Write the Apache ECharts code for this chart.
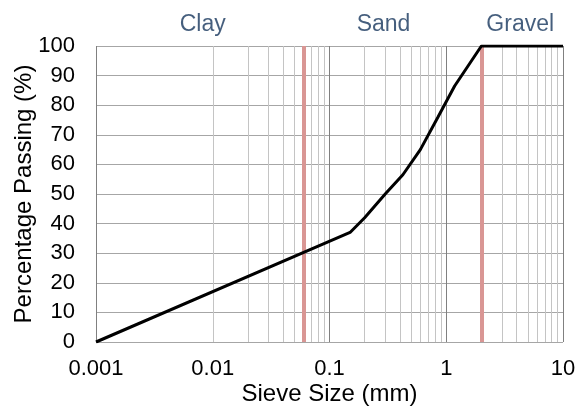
<!DOCTYPE html>
<html>
<head>
<meta charset="utf-8">
<title>Sieve Analysis</title>
<script src="https://cdn.jsdelivr.net/npm/echarts@6/dist/echarts.min.js"></script>
<style>
  html, body { margin: 0; padding: 0; background: #fff; }
  #main { width: 578px; height: 407px; }
</style>
</head>
<body>
<div id="main"></div>
<script type="text/javascript">
    // grading curve (sieve size mm, % passing)
    var sieveSize = [0.001, 0.15, 0.2, 0.3, 0.425, 0.6, 0.85, 1.18, 2, 10];
    var passing   = [0,     37,   42,  50,  56.5,  65,  76,   86.5, 100, 100];

    // soil class boundaries (mm)
    var boundaries = [0.06, 2];

    // zone labels along the top
    var zoneNames = ['Clay', 'Sand', 'Gravel'];
    var zoneX     = [0.0082, 0.29, 4.3];

    // log grid: decades and minor multipliers
    var decades = [0.001, 0.01, 0.1, 1];
    var minorMult = [2, 3, 4, 5, 6, 7, 8, 9];

    var curve = [];
    for (var i = 0; i < sieveSize.length; i++) {
        curve.push([sieveSize[i], passing[i]]);
    }
    var minorLines = [];
    for (var d = 0; d < decades.length; d++) {
        for (var m = 0; m < minorMult.length; m++) {
            minorLines.push({ xAxis: +(decades[d] * minorMult[m]).toPrecision(6) });
        }
    }
    var zones = [];
    for (var z = 0; z < zoneNames.length; z++) {
        zones.push({ value: [zoneX[z], 100], name: zoneNames[z] });
    }

    var font = 'Liberation Sans, Arial, sans-serif';
    var myChart = echarts.init(document.getElementById('main'));
    myChart.setOption({
        animation: false,
        grid: { left: 96, right: 15, top: 46, bottom: 65, containLabel: false, outerBoundsMode: 'none' },
        xAxis: {
            type: 'log',
            logBase: 10,
            min: 0.001,
            max: 10,
            name: 'Sieve Size (mm)',
            nameLocation: 'middle',
            nameGap: 40,
            nameMoveOverlap: false,
            nameTextStyle: { color: '#000', fontSize: 24, fontFamily: font },
            axisLine: { show: false },
            axisTick: { show: false },
            axisLabel: {
                color: '#000', fontSize: 22, fontFamily: font, margin: 16,
                formatter: function (v) { return String(+(+v).toPrecision(6)); }
            },
            splitLine: { show: true, lineStyle: { color: '#808080', width: 1 } }
        },
        yAxis: {
            type: 'value',
            min: 0,
            max: 100,
            interval: 10,
            name: 'Percentage Passing (%)',
            nameLocation: 'middle',
            nameGap: 60,
            nameMoveOverlap: false,
            nameTextStyle: { color: '#000', fontSize: 24, fontFamily: font },
            axisLine: { show: false },
            axisTick: { show: false },
            axisLabel: { color: '#000', fontSize: 22, fontFamily: font, margin: 21 },
            splitLine: { show: true, lineStyle: { color: '#a6a6a6', width: 1 } }
        },
        series: [
            {
                // minor log grid lines
                type: 'line',
                data: [],
                silent: true,
                markLine: {
                    silent: true,
                    symbol: 'none',
                    label: { show: false },
                    lineStyle: { color: '#c4c4c4', width: 1, type: 'solid' },
                    data: minorLines
                }
            },
            {
                // class boundaries
                type: 'line',
                data: [],
                silent: true,
                z: 3,
                markLine: {
                    silent: true,
                    symbol: 'none',
                    label: { show: false },
                    lineStyle: { color: '#d99694', width: 4, type: 'solid' },
                    data: boundaries.map(function (b) { return { xAxis: b }; })
                }
            },
            {
                name: 'Grading',
                type: 'line',
                data: curve,
                showSymbol: false,
                z: 5,
                lineStyle: { color: '#000', width: 3 }
            },
            {
                // zone labels
                type: 'scatter',
                data: zones,
                symbolSize: 0,
                silent: true,
                label: {
                    show: true,
                    position: 'top',
                    distance: 10,
                    formatter: '{b}',
                    color: '#17365d',
                    fontSize: 23,
                    fontFamily: font
                }
            }
        ]
    });
</script>
</body>
</html>
